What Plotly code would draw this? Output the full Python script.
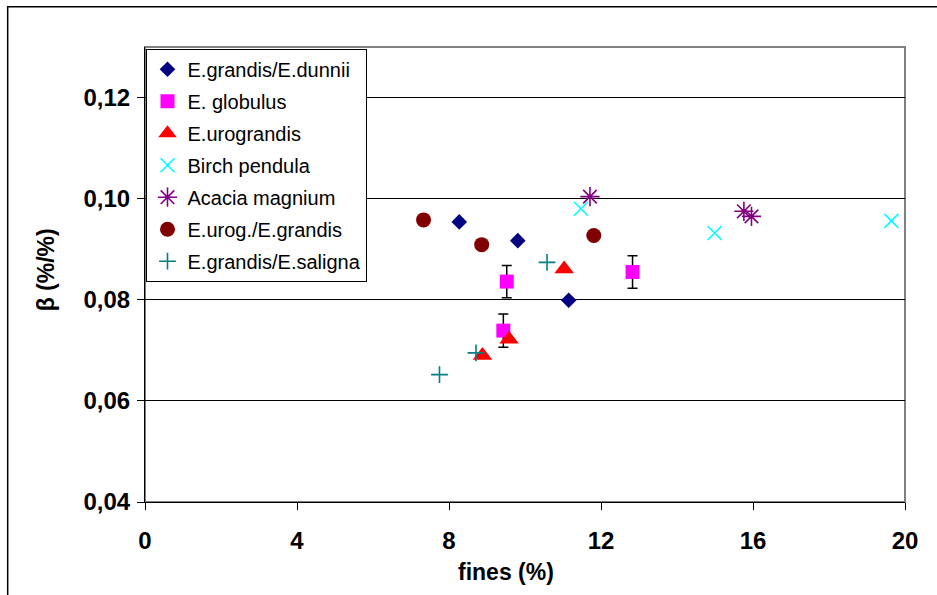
import plotly.graph_objects as go

# ---- data ----
dunnii_x = [8.27, 9.81, 11.15]
dunnii_y = [0.0954, 0.0917, 0.0799]

globulus_x = [9.52, 9.43, 12.83]
globulus_y = [0.0836, 0.0739, 0.0855]
globulus_err = [0.0032, 0.0033, 0.0032]

urograndis_x = [11.03, 9.58, 8.88]
urograndis_y = [0.0861, 0.0722, 0.0690]

birch_x = [11.47, 14.99, 19.64]
birch_y = [0.0980, 0.0932, 0.0956]

acacia_x = [11.71, 15.76, 15.96]
acacia_y = [0.1004, 0.0975, 0.0965]

urog_grandis_x = [7.33, 8.86, 11.81]
urog_grandis_y = [0.0958, 0.0909, 0.0927]

saligna_x = [10.58, 8.71, 7.75]
saligna_y = [0.0874, 0.0695, 0.0652]

x_ticks = [0, 4, 8, 12, 16, 20]
y_ticks = [0.04, 0.06, 0.08, 0.10, 0.12]

FONT = "Liberation Sans, Arial, sans-serif"

fig = go.Figure()

def add(name, xs, ys, symbol, color, size, lw=0, err=None):
    kw = {}
    if err is not None:
        kw["error_y"] = dict(type="data", array=err, visible=True,
                             color="black", thickness=1.5, width=5)
    fig.add_trace(go.Scatter(
        x=xs, y=ys, mode="markers", name=name, legendgroup=name,
        marker=dict(symbol=symbol, color=color, size=size,
                    line=dict(color=color, width=lw)),
        **kw))

add("E.grandis/E.dunnii", dunnii_x, dunnii_y, "diamond", "#000080", 12)
add("E. globulus", globulus_x, globulus_y, "square", "#FF00FF", 14, err=globulus_err)
add("E.urograndis", urograndis_x, urograndis_y, "triangle-up", "#FF0000", 17)
add("Birch pendula", birch_x, birch_y, "x-thin-open", "#00FFFF", 14, lw=1.6)
add("Acacia magnium", acacia_x, acacia_y, "asterisk-open", "#800080", 16, lw=1.6)
add("E.urog./E.grandis", urog_grandis_x, urog_grandis_y, "circle", "#800000", 15)
add("E.grandis/E.saligna", saligna_x, saligna_y, "cross-thin-open", "#008080", 12, lw=1.6)

L, R, T, B = 144.5, 905.5, 47.3, 502.3
W, H = 937, 595
pw, ph = R - L, B - T

def px(x):
    return (x - L) / pw

def py(y):
    return 1 - (y - T) / ph

fig.update_layout(
    width=W, height=H,
    margin=dict(l=L, r=W - R, t=T, b=H - B, autoexpand=False),
    paper_bgcolor="white", plot_bgcolor="white",
    separators=",.",
    font=dict(family=FONT, color="black"),
    showlegend=True,
    legend=dict(
        x=px(146), y=py(49), xanchor="left", yanchor="top",
        bgcolor="white", bordercolor="black", borderwidth=1,
        font=dict(family=FONT, size=20, color="black"),
        traceorder="grouped", tracegroupgap=3,
        itemwidth=30,
    ),
    xaxis=dict(
        range=[0, 20], tickvals=x_ticks, ticktext=[str(v) for v in x_ticks],
        showgrid=False, zeroline=False,
        showline=True, linecolor="black", linewidth=1,
        ticks="outside", ticklen=7, tickcolor="black", tickwidth=1,
        ticklabelstandoff=10,
        tickfont=dict(family=FONT, size=24, color="black", weight="bold"),
    ),
    yaxis=dict(
        range=[0.04, 0.13], tickvals=y_ticks, tickformat=".2f",
        showgrid=True, gridcolor="black", gridwidth=1,
        zeroline=False,
        showline=True, linecolor="black", linewidth=1,
        ticks="outside", ticklen=7, tickcolor="black", tickwidth=1,
        ticklabelstandoff=2,
        tickfont=dict(family=FONT, size=24, color="black", weight="bold"),
    ),
    shapes=[
        # plot area border (gray)
        dict(type="rect", xref="paper", yref="paper", x0=0, x1=1, y0=0, y1=1,
             line=dict(color="#808080", width=2), layer="below"),
        # outer chart frame
        dict(type="path", xref="paper", yref="paper",
             path=f"M {px(7)} -0.4 L {px(7)} {py(7)} L 1.2 {py(7)}",
             line=dict(color="black", width=1.5)),
    ],
    annotations=[
        dict(text="fines (%)", xref="paper", yref="paper",
             x=px(506), y=py(572), xanchor="center", yanchor="middle",
             showarrow=False,
             font=dict(family=FONT, size=23, color="black", weight="bold")),
        dict(text="β (%/%)", xref="paper", yref="paper",
             x=px(45), y=py(270), xanchor="center", yanchor="middle",
             textangle=-90, showarrow=False,
             font=dict(family=FONT, size=23, color="black", weight="bold")),
    ],
)

fig.write_html("out.html")
